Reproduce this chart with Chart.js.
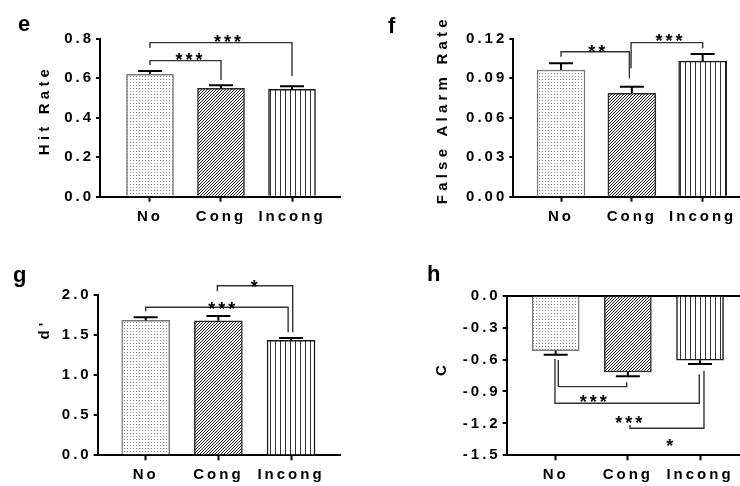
<!DOCTYPE html>
<html>
<head>
<meta charset="utf-8">
<script src="https://cdn.jsdelivr.net/npm/chart.js@4.4.1/dist/chart.umd.min.js"></script>
<style>
  html, body { margin: 0; padding: 0; background: #fff; }
  #wrap { position: relative; width: 740px; height: 486px; overflow: hidden; }
  canvas { position: absolute; }
</style>
</head>
<body>
<div id="wrap">
  <canvas id="chartE" width="370" height="243" style="left:0;top:0"></canvas>
  <canvas id="chartF" width="370" height="243" style="left:370px;top:0"></canvas>
  <canvas id="chartG" width="370" height="243" style="left:0;top:243px"></canvas>
  <canvas id="chartH" width="370" height="243" style="left:370px;top:243px"></canvas>
</div>
<script>
// categorias comunes
const categories = ["No", "Cong", "Incong"];

// e - Hit Rate
const hitRate = [0.620, 0.549, 0.544];
const hitRateErr = [0.016, 0.015, 0.015];
const hitTicks = [0, 0.2, 0.4, 0.6, 0.8];
const hitBrackets = [
  { from: 0, to: 1, level: 0.689, fromEnd: 0.667, toEnd: 0.591, label: "***", labelX: 0.55, labelY: 0.713 },
  { from: 0, to: 2, level: 0.780, fromEnd: 0.753, toEnd: 0.611, label: "***", labelX: 1.09, labelY: 0.805 },
];

// f - False Alarm Rate
const faRate = [0.0962, 0.0785, 0.1030];
const faRateErr = [0.0051, 0.0050, 0.0054];
const faTicks = [0, 0.03, 0.06, 0.09, 0.12];
const faBrackets = [
  { from: 0, to: 0.965, level: 0.1101, fromEnd: 0.1063, toEnd: 0.0899, label: "**", labelX: 0.504, labelY: 0.1128 },
  { from: 0.989, to: 2, level: 0.1170, fromEnd: 0.0975, toEnd: 0.1127, label: "***", labelX: 1.525, labelY: 0.1215 },
];

// g - d'
const dPrime = [1.680, 1.675, 1.431];
const dPrimeErr = [0.040, 0.060, 0.030];
const dPrimeTicks = [0, 0.5, 1.0, 1.5, 2.0];
const dPrimeBrackets = [
  { from: 0, to: 1.96, level: 1.843, fromEnd: 1.793, toEnd: 1.532, label: "***", labelX: 1.046, labelY: 1.869 },
  { from: 0.986, to: 2.023, level: 2.112, fromEnd: 2.042, toEnd: 1.532, label: "*", labelX: 1.493, labelY: 2.146 },
];

// h - C
const criterion = [-0.517, -0.717, -0.607];
const criterionErr = [0.037, 0.040, 0.035];
const criterionTicks = [0, -0.3, -0.6, -0.9, -1.2, -1.5];
const criterionBrackets = [
  { from: 0.036, to: 0.984, level: -0.855, fromEnd: -0.604, toEnd: -0.814, label: "***", labelX: 0.521, labelY: -0.960 },
  { from: -0.01, to: 1.99, level: -1.011, fromEnd: -0.595, toEnd: -0.739, label: "***", labelX: 1.013, labelY: -1.157 },
  { from: 1.03, to: 2.055, level: -1.246, fromEnd: -1.215, toEnd: -0.705, label: "*", labelX: 1.58, labelY: -1.372 },
];

const FONT = "'Liberation Sans', Arial, sans-serif";
Chart.defaults.font.family = FONT;

// Patrones de relleno (puntos, rayado diagonal, lineas verticales)
function makePattern(w, h, draw) {
  const c = document.createElement("canvas");
  c.width = w;
  c.height = h;
  const g = c.getContext("2d");
  g.fillStyle = "#fff";
  g.fillRect(0, 0, w, h);
  draw(g);
  return g.createPattern(c, "repeat");
}
const dotFill = makePattern(3, 3, g => { g.fillStyle = "#8a8a8a"; g.fillRect(1, 1, 1, 1); });
const hatchFill = makePattern(3, 3, g => {
  g.fillStyle = "#1a1a1a";
  for (let i = 0; i < 3; i++) g.fillRect(2 - i, i, 1, 1);
});
const lineFill = makePattern(5, 1, g => { g.fillStyle = "#333"; g.fillRect(0, 0, 1, 1); });

// Plugin: barras de error, corchetes de significancia, titulos y letras
const decor = {
  id: "decor",
  beforeDraw(chart) {
    chart.ctx.letterSpacing = "3px";
  },
  afterDatasetsDraw(chart, args, opts) {
    const { ctx } = chart;
    const x = chart.scales.x, y = chart.scales.y;
    ctx.save();
    ctx.strokeStyle = "#000";
    ctx.lineWidth = 2;
    opts.values.forEach((v, i) => {
      const px = x.getPixelForValue(i);
      const y0 = y.getPixelForValue(v);
      const y1 = y.getPixelForValue(v + Math.sign(v) * opts.errors[i]);
      ctx.beginPath();
      ctx.moveTo(px, y0);
      ctx.lineTo(px, y1);
      ctx.moveTo(px - 12, y1);
      ctx.lineTo(px + 12, y1);
      ctx.stroke();
    });

    ctx.strokeStyle = "#333";
    ctx.lineWidth = 1.4;
    ctx.fillStyle = "#000";
    ctx.font = "bold 18px " + FONT;
    ctx.letterSpacing = "3px";
    ctx.textAlign = "center";
    ctx.textBaseline = "alphabetic";
    opts.brackets.forEach(b => {
      const xa = x.getPixelForValue(b.from), xb = x.getPixelForValue(b.to);
      const yl = y.getPixelForValue(b.level);
      ctx.beginPath();
      ctx.moveTo(xa, y.getPixelForValue(b.fromEnd));
      ctx.lineTo(xa, yl);
      ctx.lineTo(xb, yl);
      ctx.lineTo(xb, y.getPixelForValue(b.toEnd));
      ctx.stroke();
      ctx.fillText(b.label, x.getPixelForValue(b.labelX) + 1.5, y.getPixelForValue(b.labelY) + 10);
    });
    ctx.restore();
  },
  afterDraw(chart, args, opts) {
    const { ctx } = chart;
    ctx.save();
    ctx.fillStyle = "#000";
    // letra del panel
    ctx.letterSpacing = "0px";
    ctx.font = "bold 22px " + FONT;
    ctx.textAlign = "left";
    ctx.textBaseline = "alphabetic";
    ctx.fillText(opts.letter, opts.letterPos[0], opts.letterPos[1]);
    // titulo del eje y
    ctx.font = "bold 15px " + FONT;
    ctx.letterSpacing = "4.2px";
    ctx.translate(opts.titlePos[0], opts.titlePos[1]);
    ctx.rotate(-Math.PI / 2);
    ctx.textAlign = "center";
    ctx.textBaseline = "middle";
    ctx.fillText(opts.title, 2, 0);
    ctx.restore();
  },
};

function buildChart(p) {
  const W = 370, H = 243, xAxisH = 30;
  const tickFont = { family: FONT, size: 15, weight: "bold" };
  return new Chart(document.getElementById(p.canvas), {
    type: "bar",
    data: {
      datasets: [{
        data: p.values.map((v, i) => ({ x: i, y: v })),
        backgroundColor: [dotFill, hatchFill, lineFill],
        borderColor: ["#7a7a7a", "#2a2a2a", "#1a1a1a"],
        borderWidth: 1.5,
        barThickness: p.barWidth,
      }],
    },
    options: {
      responsive: false,
      animation: false,
      devicePixelRatio: 1,
      layout: {
        padding: { left: 0, top: p.area.top, right: W - p.area.right, bottom: H - p.area.bottom - xAxisH },
      },
      plugins: {
        legend: { display: false },
        tooltip: { enabled: false },
        decor: {
          values: p.values, errors: p.errors, brackets: p.brackets,
          letter: p.letter, letterPos: p.letterPos, title: p.title, titlePos: p.titlePos,
        },
      },
      scales: {
        x: {
          type: "linear",
          min: p.xRange[0],
          max: p.xRange[1],
          bounds: "data",
          offset: false,
          afterBuildTicks: s => { s.ticks = categories.map((c, i) => ({ value: i })); },
          afterFit: s => { s.height = xAxisH; s.paddingLeft = 0; s.paddingRight = 0; },
          ticks: {
            callback: v => categories[v],
            font: tickFont, color: "#000", padding: 6, maxRotation: 0, autoSkip: false,
          },
          grid: { offset: false, drawOnChartArea: false, tickLength: 5, tickWidth: 2, tickColor: "#000" },
          border: { color: "#000", width: 2 },
        },
        y: {
          min: Math.min(...p.yTicks),
          max: Math.max(...p.yTicks),
          bounds: "data",
          z: p.zeroLine ? 1 : 0,
          afterBuildTicks: s => { s.ticks = p.yTicks.map(v => ({ value: v })); },
          afterFit: s => { s.width = p.area.left; s.paddingTop = 0; s.paddingBottom = 0; },
          ticks: {
            callback: v => v.toFixed(p.decimals),
            font: tickFont, color: "#000", padding: 2,
          },
          grid: {
            drawOnChartArea: !!p.zeroLine,
            color: ctx => (ctx.tick && ctx.tick.value === 0 ? "#000" : "rgba(0,0,0,0)"),
            lineWidth: 2,
            tickLength: 4, tickWidth: 2, tickColor: "#000",
          },
          border: { color: "#000", width: 2 },
        },
      },
    },
    plugins: [decor],
  });
}

buildChart({
  canvas: "chartE", letter: "e", letterPos: [18, 31], title: "Hit Rate", titlePos: [45, 112],
  values: hitRate, errors: hitRateErr, yTicks: hitTicks, decimals: 1, brackets: hitBrackets,
  area: { left: 100, top: 38.7, right: 340, bottom: 196.7 }, xRange: [-0.704, 2.676], barWidth: 47,
});
buildChart({
  canvas: "chartF", letter: "f", letterPos: [18, 33], title: "False Alarm Rate", titlePos: [72.5, 111.7],
  values: faRate, errors: faRateErr, yTicks: faTicks, decimals: 2, brackets: faBrackets,
  area: { left: 143.3, top: 38.7, right: 370, bottom: 196.7 }, xRange: [-0.674, 2.527], barWidth: 48,
});
buildChart({
  canvas: "chartG", letter: "g", letterPos: [13, 39], title: "d'", titlePos: [44.5, 88],
  values: dPrime, errors: dPrimeErr, yTicks: dPrimeTicks, decimals: 1, brackets: dPrimeBrackets,
  area: { left: 97.7, top: 51.7, right: 340, bottom: 212.3 }, xRange: [-0.661, 2.674], barWidth: 48,
});
buildChart({
  canvas: "chartH", letter: "h", letterPos: [57, 38], title: "C", titlePos: [71.7, 127.5],
  values: criterion, errors: criterionErr, yTicks: criterionTicks, decimals: 1, brackets: criterionBrackets,
  area: { left: 136.7, top: 52.7, right: 370, bottom: 212.3 }, xRange: [-0.679, 2.554], barWidth: 47, zeroLine: true,
});
</script>
</body>
</html>
